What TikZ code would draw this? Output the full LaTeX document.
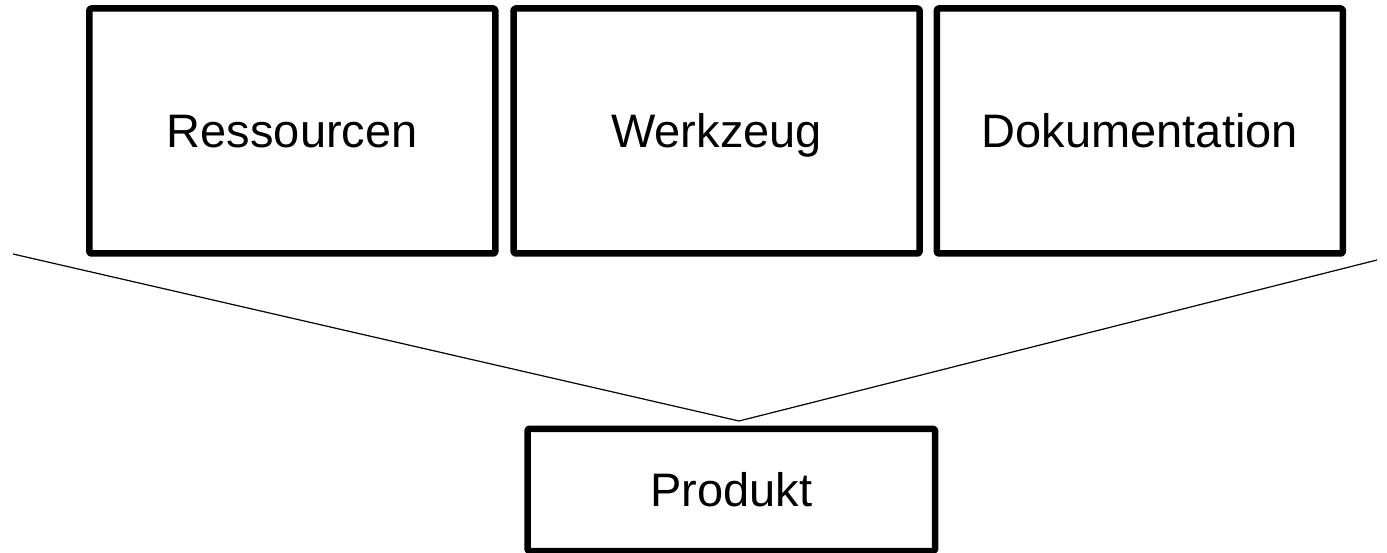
\documentclass[tikz,border=0pt]{standalone}
\usepackage{fontspec}
\setmainfont{Liberation Sans}
\begin{document}
\begin{tikzpicture}[x=1pt,y=-1pt,
  box/.style={draw=black,line width=6.5pt,line join=round,rounded corners=1.5pt,inner sep=0pt,
    minimum width=406pt,text height=34pt,text depth=0pt,font=\fontsize{47}{56}\selectfont},
  bigbox/.style={box,minimum height=245pt},
  smallbox/.style={box,minimum width=407.5pt,minimum height=122.3pt},
  thin/.style={draw=black,line width=1.2pt}]
\useasboundingbox (0,0) rectangle (1387,553);
\node[bigbox] (res) at (292.3,131) {Ressourcen};
\node[bigbox] (wer) at (716.6,131) {Werkzeug};
\node[bigbox] (dok) at (1139.8,131) {Dokumentation};
\node[smallbox] (pro) at (731.3,489.9) {Produkt};
\coordinate (l) at (13,254);
\coordinate (v) at (739,421);
\coordinate (r) at (1377,260);
\draw[thin] (l) -- (v) -- (r);
\end{tikzpicture}
\end{document}
